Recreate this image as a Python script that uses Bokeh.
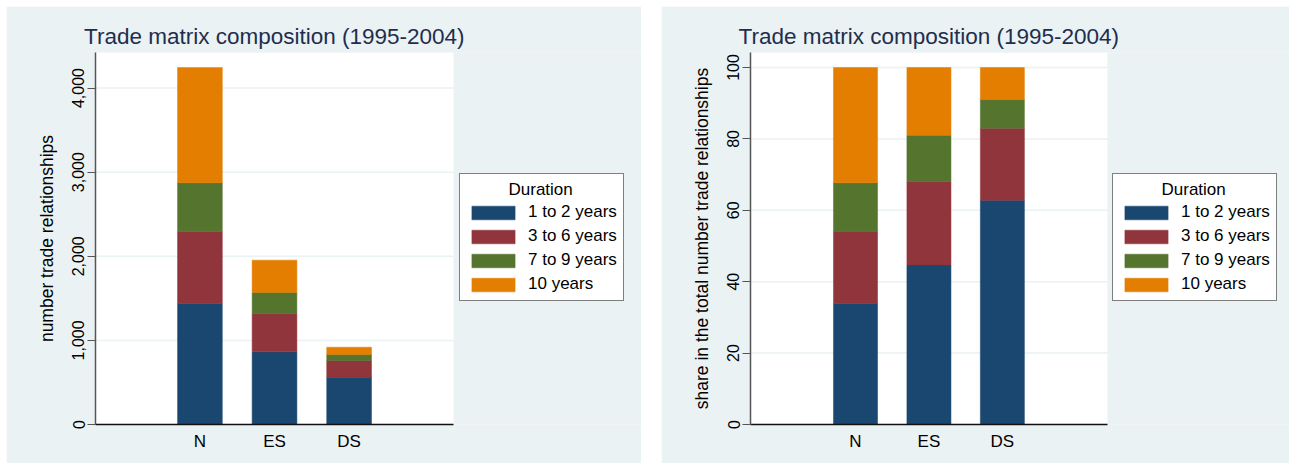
from bokeh.plotting import figure
from bokeh.models import (ColumnDataSource, Range1d, Legend, LegendItem, BoxAnnotation,
                          FixedTicker, NumeralTickFormatter)
from bokeh.layouts import row
from bokeh.embed import file_html
from bokeh.resources import INLINE

categories = ["N", "ES", "DS"]
durations = ["1 to 2 years", "3 to 6 years", "7 to 9 years", "10 years"]
legend_title = "Duration"

# number of trade relationships (left panel)
count_1to2 = [1439, 864, 562]
count_3to6 = [856, 456, 199]
count_7to9 = [579, 249, 71]
count_10 = [1371, 385, 87]

# share in total (right panel)
share_1to2 = [33.9, 44.7, 62.8]
share_3to6 = [20.2, 23.4, 20.2]
share_7to9 = [13.6, 12.9, 8.0]
share_10 = [32.3, 19.0, 9.0]

left_ticks = [0, 1000, 2000, 3000, 4000]
right_ticks = [0, 20, 40, 60, 80, 100]

colors = ["#1A476F", "#90353B", "#55752F", "#E37E00"]
BG = "#EAF2F3"
FONT = "Liberation Sans"
TITLE = "Trade matrix composition (1995-2004)"


def make_panel(vals, ymax, ticks, ylabel, width, min_left, fmt, pad, xend,
               leg_loc, title_off):
    keys = ["d1", "d2", "d3", "d4"]
    xpos = list(range(len(categories)))
    data = {"x": xpos}
    for k, v in zip(keys, vals):
        data[k] = v
    src = ColumnDataSource(data)
    x0 = xpos[0] - pad
    x1 = xpos[-1] + pad
    p = figure(x_range=Range1d(x0, xend), y_range=Range1d(0, ymax),
               width=width, height=457,
               output_backend="svg", toolbar_location=None,
               min_border_left=min_left, min_border_top=46, min_border_bottom=39,
               min_border_right=0)
    p.border_fill_color = BG
    p.background_fill_color = BG
    p.outline_line_color = None
    p.xgrid.grid_line_color = None
    p.ygrid.grid_line_color = None

    # white plot region
    p.add_layout(BoxAnnotation(left=x0, right=x1, fill_color="white", fill_alpha=1.0,
                               line_color=None, level="underlay"))
    # horizontal grid lines limited to the plot region
    p.segment(x0=[x0] * len(ticks), x1=[x1] * len(ticks), y0=ticks, y1=ticks,
              line_color=BG, line_width=1.5)

    rs = p.vbar_stack(keys, x="x", width=0.6, source=src, fill_color=colors,
                      line_color=colors, line_width=0.5)

    p.title.text = TITLE
    p.title.align = "left"
    p.title.offset = title_off
    p.title.text_font = FONT
    p.title.text_font_size = "22.5px"
    p.title.text_font_style = "normal"
    p.title.text_color = "#1F2E4E"
    p.title.standoff = 7

    ya = p.yaxis[0]
    ya.ticker = FixedTicker(ticks=ticks)
    ya.formatter = NumeralTickFormatter(format=fmt)
    ya.major_label_orientation = "vertical"
    ya.major_label_text_font = FONT
    ya.major_label_text_font_size = "16px"
    ya.major_label_text_color = "black"
    ya.major_label_standoff = 3
    ya.major_tick_out = 8
    ya.major_tick_in = 0
    ya.minor_tick_out = 0
    ya.minor_tick_in = 0
    ya.axis_line_color = "#555555"
    ya.axis_line_width = 1.5
    ya.major_tick_line_color = "#555555"
    ya.major_tick_line_width = 1.2
    ya.axis_label = ylabel
    ya.axis_label_text_font = FONT
    ya.axis_label_text_font_size = "17.5px"
    ya.axis_label_text_font_style = "normal"
    ya.axis_label_text_color = "black"
    ya.axis_label_standoff = 13

    xa = p.xaxis[0]
    xa.ticker = FixedTicker(ticks=xpos)
    xa.major_label_overrides = {i: c for i, c in zip(xpos, categories)}
    xa.bounds = (x0, x1)
    xa.major_tick_out = 0
    xa.major_tick_in = 0
    xa.minor_tick_out = 0
    xa.minor_tick_in = 0
    xa.axis_line_color = "#111111"
    xa.axis_line_width = 1.5
    xa.major_label_text_font = FONT
    xa.major_label_text_font_size = "17px"
    xa.major_label_text_color = "black"
    xa.major_label_standoff = 7

    items = [LegendItem(label=d, renderers=[r]) for d, r in zip(durations, rs)]
    # non-breaking spaces centre the legend title over the items
    leg = Legend(items=items, title="\u00a0" * 9 + legend_title, location=leg_loc,
                 orientation="vertical")
    leg.title_text_font = FONT
    leg.title_text_font_size = "17px"
    leg.title_text_font_style = "normal"
    leg.title_text_color = "black"
    leg.title_standoff = 2
    leg.label_text_font = FONT
    leg.label_text_font_size = "17px"
    leg.label_text_color = "black"
    leg.glyph_width = 54
    leg.glyph_height = 17
    leg.label_height = 17
    leg.label_standoff = 8
    leg.spacing = 4
    leg.padding = 6
    leg.margin = 0
    leg.border_line_color = "black"
    leg.border_line_width = 1
    leg.background_fill_color = "white"
    leg.background_fill_alpha = 1.0
    p.add_layout(leg, "center")
    return p


p1 = make_panel([count_1to2, count_3to6, count_7to9, count_10], 4423, left_ticks,
                "number trade relationships", 635, 89, "0,0", 1.4, 5.92,
                (364, 123), -11.5)
p2 = make_panel([share_1to2, share_3to6, share_7to9, share_10], 104.2, right_ticks,
                "share in the total number trade relationships", 628, 89, "0", 1.43, 5.91,
                (362, 123), -12)

layout = row(p1, p2, spacing=20, margin=(6, 0, 0, 6))
open("out.html", "w").write(file_html(layout, INLINE))
